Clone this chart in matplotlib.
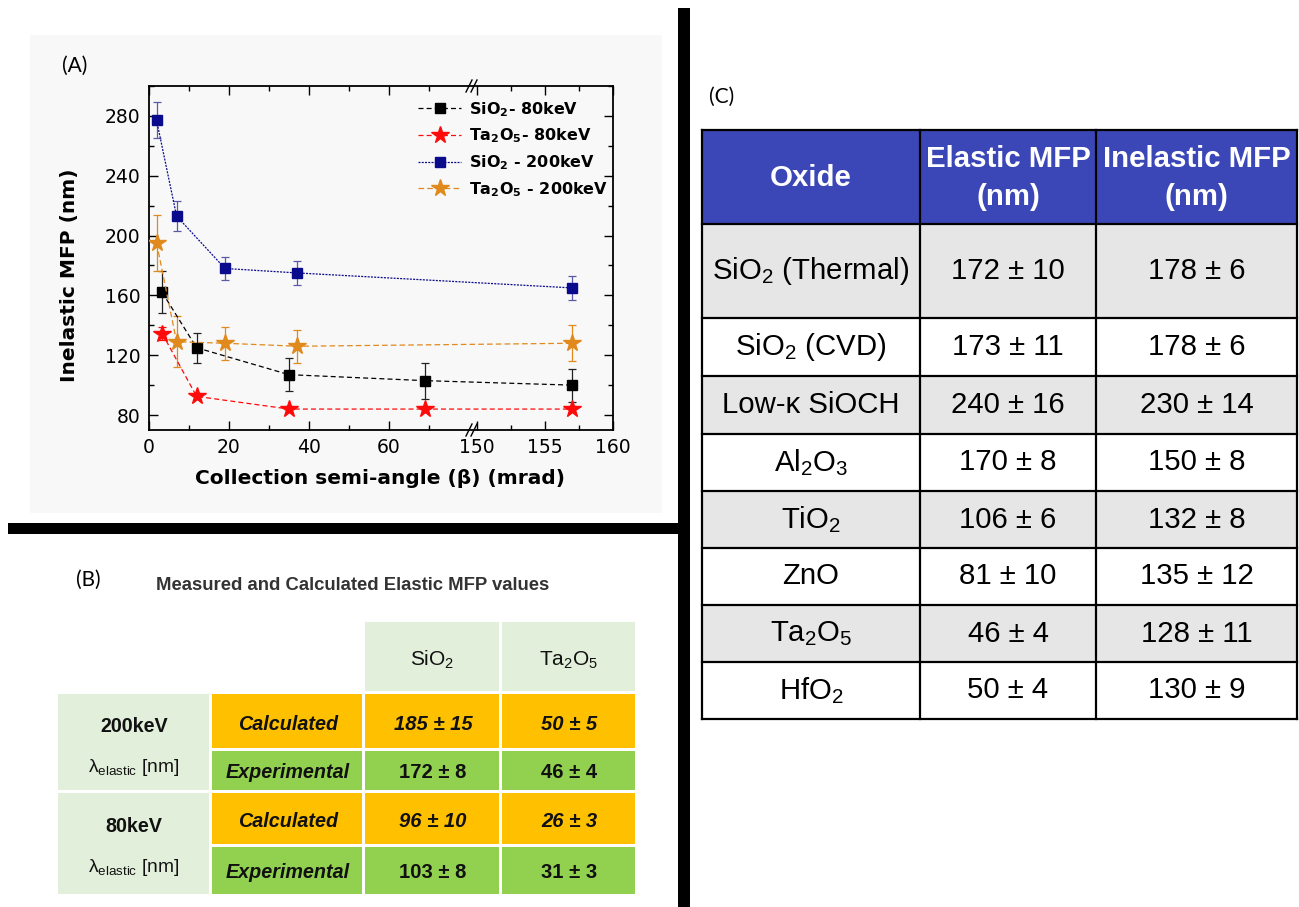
import numpy as np
import matplotlib
matplotlib.use('Agg')
import matplotlib.pyplot as plt
import matplotlib.font_manager as fm
from matplotlib.patches import Rectangle
from matplotlib.lines import Line2D

plt.rcParams['mathtext.default'] = 'regular'

# ---------------- Panel A data ----------------
beta_80 = [3.3, 11.9, 35.0, 69.0, 157.0]
beta_200 = [1.9, 6.9, 19.0, 37.1, 157.0]
sio2_80 = [162, 125, 107, 103, 100]
sio2_80_err = [14, 10, 11, 12, 11]
ta2o5_80 = [134.5, 92.5, 84, 84, 84]
ta2o5_80_err = [4.5, 2, 2, 2, 2]
sio2_200 = [277, 213, 178, 175, 165]
sio2_200_err = [12, 10, 8, 8, 8]
ta2o5_200 = [195, 129, 128, 126, 128]
ta2o5_200_err = [19, 17, 11, 11, 12]
series_labels = [r'SiO$_2$- 80keV', r'Ta$_2$O$_5$- 80keV',
                 r'SiO$_2$ - 200keV', r'Ta$_2$O$_5$ - 200keV']
x_major = [0, 20, 40, 60, 150, 155, 160]
x_minor = [10, 30, 50, 70, 152.5, 157.5]
y_major = [80, 120, 160, 200, 240, 280]
y_minor = [100, 140, 180, 220, 260, 300]

# ---------------- Panel B data ----------------
b_title = 'Measured and Calculated Elastic MFP values'
b_cols = [r'SiO$_2$', r'Ta$_2$O$_5$']
b_energies = ['200keV', '80keV']
b_unit = r'λ$_{elastic}$ [nm]'
b_kinds = ['Calculated', 'Experimental', 'Calculated', 'Experimental']
b_values = [['185 ± 15', '50 ± 5'],
            ['172 ± 8', '46 ± 4'],
            ['96 ± 10', '26 ± 3'],
            ['103 ± 8', '31 ± 3']]

# ---------------- Panel C data ----------------
c_header = ['Oxide', 'Elastic MFP\n(nm)', 'Inelastic MFP\n(nm)']
c_oxides = [r'SiO$_2$ (Thermal)', r'SiO$_2$ (CVD)', 'Low-κ SiOCH', r'Al$_2$O$_3$',
            r'TiO$_2$', 'ZnO', r'Ta$_2$O$_5$', r'HfO$_2$']
c_elastic = ['172 ± 10', '173 ± 11', '240 ± 16', '170 ± 8', '106 ± 6', '81 ± 10', '46 ± 4', '50 ± 4']
c_inelastic = ['178 ± 6', '178 ± 6', '230 ± 14', '150 ± 8', '132 ± 8', '135 ± 12', '128 ± 11', '130 ± 9']

# ---------------- fonts ----------------
_names = {f.name for f in fm.fontManager.ttflist}
if 'Liberation Sans Narrow' in _names:
    NARROW, NSB, NSC = 'Liberation Sans Narrow', 1.0, 1.0
else:
    NARROW, NSB, NSC = 'Liberation Sans', 0.86, 0.88

W, H = 1299, 907
fig = plt.figure(figsize=(W / 100, H / 100), dpi=100)
fig.patch.set_facecolor('white')


def fx(x):
    return x / W


def fy(y):
    return 1 - y / H


def rect(x0, y0, x1, y1, color, z=0):
    fig.add_artist(Rectangle((fx(x0), fy(y1)), (x1 - x0) / W, (y1 - y0) / H,
                             transform=fig.transFigure, facecolor=color,
                             edgecolor='none', zorder=z))


def hline(x0, x1, y, lw, color='black', z=3):
    fig.add_artist(Line2D([fx(x0), fx(x1)], [fy(y), fy(y)], transform=fig.transFigure,
                          color=color, lw=lw, zorder=z, solid_capstyle='projecting'))


def vline(x, y0, y1, lw, color='black', z=3):
    fig.add_artist(Line2D([fx(x), fx(x)], [fy(y0), fy(y1)], transform=fig.transFigure,
                          color=color, lw=lw, zorder=z, solid_capstyle='projecting'))


# ================= Panel A =================
rect(30, 35, 662, 513, '#f8f8f8', z=0)

BRK, R0, K, EPS = 82.0, 150.0, 3.4, 1e-6


def fwd(x):
    x = np.asarray(x, dtype=float)
    u1 = BRK + (R0 - BRK) * EPS
    return np.where(x <= BRK, x, np.where(x >= R0, u1 + (x - R0) * K, BRK + (x - BRK) * EPS))


def inv(u):
    u = np.asarray(u, dtype=float)
    u1 = BRK + (R0 - BRK) * EPS
    return np.where(u <= BRK, u, np.where(u >= u1, R0 + (u - u1) / K, BRK + (u - BRK) / EPS))


ax = fig.add_axes([149 / W, 1 - 430 / H, 464 / W, 344 / H])
ax.set_facecolor('none')
ax.set_xscale('function', functions=(fwd, inv))
ax.set_xlim(0, 160)
ax.set_ylim(70, 300)

c_black, c_red, c_navy, c_orange = '#000000', '#ff0a0a', '#0a0a8c', '#e0891c'
specs = [
    (beta_80, sio2_80, sio2_80_err, c_black, '#222222', 's', 7.5, (4, 2.5)),
    (beta_80, ta2o5_80, ta2o5_80_err, c_red, c_red, '*', 13, (4, 2.5)),
    (beta_200, sio2_200, sio2_200_err, c_navy, '#5a5aa8', 's', 7.5, (1.6, 1.0)),
    (beta_200, ta2o5_200, ta2o5_200_err, c_orange, c_orange, '*', 13, (4.5, 2.5)),
]
for (xs, ys, es, col, ecol, mk, ms, dash), lab in zip(specs, series_labels):
    ax.errorbar(xs, ys, yerr=es, fmt='none', ecolor=ecol, elinewidth=0.9,
                capsize=3.2, capthick=0.9, zorder=2)
    ax.plot(xs, ys, color=col, lw=0.9, dashes=dash, marker=mk, ms=ms,
            markeredgecolor=col, markerfacecolor=col, label=lab, zorder=3)

ax.set_xticks(x_major)
ax.set_xticklabels([str(v) for v in x_major])
ax.set_xticks(x_minor, minor=True)
ax.set_yticks(y_major)
ax.set_yticks(y_minor, minor=True)
ax.tick_params(which='both', direction='in', top=True, right=True, width=1.0)
ax.tick_params(which='major', length=6.5, labelsize=13.5, pad=6)
ax.tick_params(which='minor', length=3.5)
for s in ax.spines.values():
    s.set_linewidth(1.3)

# break marks
xb = float(fwd(150.0)) / float(fwd(160.0))
for yb in (0.0, 1.0):
    for dxp in (-8, -3):
        x0 = xb + (dxp - 3) / 464
        x1 = xb + (dxp + 3) / 464
        ax.plot([x0, x1], [yb - 6 / 344, yb + 6 / 344], transform=ax.transAxes,
                color='black', lw=1.0, clip_on=False, zorder=5)

leg = ax.legend(loc='upper left', bbox_to_anchor=((418 - 149) / 464, (430 - 100) / 344),
                frameon=False, prop={'weight': 'bold', 'size': 11.5},
                handlelength=2.7, handletextpad=0.5, labelspacing=0.5,
                borderpad=0, borderaxespad=0, numpoints=1)

fig.text(fx(69), fy(275), 'Inelastic MFP (nm)', rotation=90, ha='center', va='center',
         fontsize=14.5, fontweight='bold')
fig.text(fx(380), fy(479), 'Collection semi-angle (β) (mrad)', ha='center', va='center',
         fontsize=14.5, fontweight='bold')
fig.text(fx(75), fy(66), '(A)', ha='center', va='center', fontsize=15, family='Lato')

# thick separator lines
rect(678, 8, 690, 907, 'black', z=4)
rect(8, 523, 684, 534, 'black', z=4)

# ================= Panel B =================
fig.text(fx(88), fy(580), '(B)', ha='center', va='center', fontsize=15, family='Lato')
fig.text(fx(353), fy(586), b_title, ha='center', va='center', fontsize=15.5 * NSB,
         fontweight='bold', family=NARROW, color='#333333')

LG, OR, GR = '#e2efda', '#ffc000', '#92d050'
col_x = [(58, 209), (212, 362), (365, 499), (502, 635)]
hdr_y = (622, 691)
row_y = [(694, 748), (751, 790), (793, 844), (847, 894)]
row_fill = [OR, GR, OR, GR]
energy_text_y = [(726, 767), (827, 867)]

for j, name in enumerate(b_cols):
    x0, x1 = col_x[2 + j]
    rect(x0, hdr_y[0], x1, hdr_y[1], LG, z=1)
    fig.text(fx((x0 + x1) / 2), fy(660), name, ha='center', va='center',
             fontsize=17.5 * NSB, family=NARROW, color='#111111')

for e, en in enumerate(b_energies):
    y0 = row_y[2 * e][0]
    y1 = row_y[2 * e + 1][1]
    rect(col_x[0][0], y0, col_x[0][1], y1, LG, z=1)
    fig.text(fx(134), fy(energy_text_y[e][0]), en, ha='center', va='center',
             fontsize=16.5 * NSB, fontweight='bold', family=NARROW, color='#111111')
    fig.text(fx(134), fy(energy_text_y[e][1]), b_unit, ha='center', va='center',
             fontsize=16 * NSB, family=NARROW, color='#111111')

for i, (kind, vals) in enumerate(zip(b_kinds, b_values)):
    y0, y1 = row_y[i]
    yc = (y0 + y1) / 2 + (3 if i % 2 == 0 else 2)
    calc = (i % 2 == 0)
    for j in range(1, 4):
        rect(col_x[j][0], y0, col_x[j][1], y1, row_fill[i], z=1)
    fig.text(fx(288), fy(yc), kind, ha='center', va='center', fontsize=16.5 * NSB,
             fontweight='bold', fontstyle='italic', family=NARROW, color='#111111')
    for j, v in enumerate(vals):
        x0, x1 = col_x[2 + j]
        fig.text(fx((x0 + x1) / 2 + 1), fy(yc), v, ha='center', va='center',
                 fontsize=17 * NSB, fontweight='bold',
                 fontstyle='italic' if calc else 'normal', family=NARROW, color='#111111')

# ================= Panel C =================
fig.text(fx(722), fy(97), '(C)', ha='center', va='center', fontsize=15, family='Lato')

cx = [702, 920, 1096, 1297]
cy = [130, 224, 318, 376, 434, 491, 548, 605, 662, 719]
BLUE, GREY = '#3b47b7', '#e7e6e6'
rect(cx[0], cy[0], cx[3], cy[1], BLUE, z=1)
for r in range(8):
    if r % 2 == 0:
        rect(cx[0], cy[r + 1], cx[3], cy[r + 2], GREY, z=1)
for y in cy:
    hline(cx[0], cx[3], y, 1.6)
for x in cx:
    vline(x, cy[0], cy[-1], 1.6)

hy = (cy[0] + cy[1]) / 2
for j, h in enumerate(c_header):
    fig.text(fx((cx[j] + cx[j + 1]) / 2), fy(hy + 1), h, ha='center', va='center',
             fontsize=24 * NSC, fontweight='bold', color='white', family=NARROW,
             linespacing=1.45)

for r in range(8):
    yc = (cy[r + 1] + cy[r + 2]) / 2
    for j, txt in enumerate((c_oxides[r], c_elastic[r], c_inelastic[r])):
        fig.text(fx((cx[j] + cx[j + 1]) / 2), fy(yc), txt, ha='center', va='center',
                 fontsize=24 * NSC, family=NARROW, color='black')

fig.savefig('out.png', dpi=100, facecolor='white')
